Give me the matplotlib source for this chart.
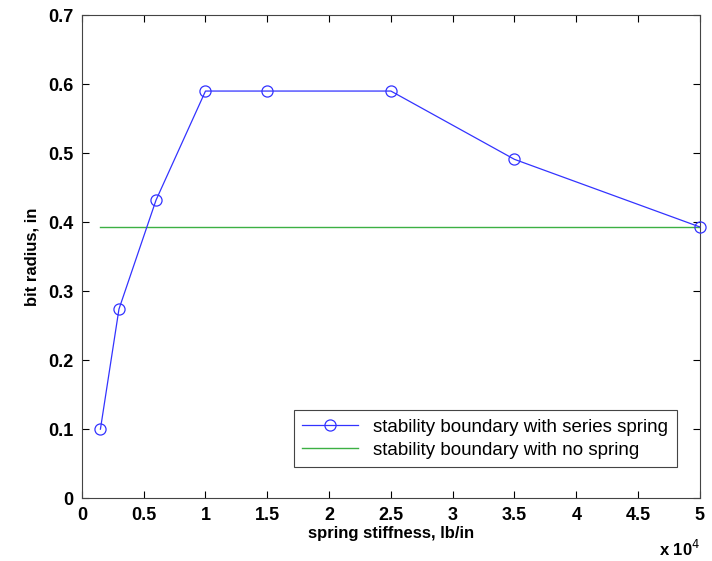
from matplotlib import pyplot as plt

# spring stiffness (lb/in) and bit radius (in)
stiffness = [1500, 3000, 6000, 10000, 15000, 25000, 35000, 50000]
radius = [0.100, 0.274, 0.432, 0.590, 0.590, 0.590, 0.491, 0.393]

# no-spring boundary
nospring_x = [1500, 50000]
nospring_y = [0.393, 0.393]

xticks = [0, 5000, 10000, 15000, 20000, 25000, 30000, 35000, 40000, 45000, 50000]
xticklabels = ["0", "0.5", "1", "1.5", "2", "2.5", "3", "3.5", "4", "4.5", "5"]
yticks = [0, 0.1, 0.2, 0.3, 0.4, 0.5, 0.6, 0.7]

plt.rcParams['font.family'] = ['Liberation Sans', 'DejaVu Sans']

fig = plt.figure(figsize=(7.12, 5.61), dpi=100)
ax = fig.add_axes([0.115, 0.112, 0.868, 0.861])

ax.plot(stiffness, radius, color='#3333ff', lw=0.9, marker='o', ms=8,
        mfc='none', mec='#3333ff', mew=0.9, clip_on=False, zorder=3,
        label='stability boundary with series spring')
ax.plot(nospring_x, nospring_y, color='#3cb043', lw=1.0,
        label='stability boundary with no spring')

ax.set_xlim(0, 50000)
ax.set_ylim(0, 0.7)
ax.set_xticks(xticks)
ax.set_xticklabels(xticklabels)
ax.set_yticks(yticks)
ax.set_yticklabels(["0", "0.1", "0.2", "0.3", "0.4", "0.5", "0.6", "0.7"])

ax.tick_params(direction='in', top=True, right=True, length=5, width=0.8,
               labelsize=13, pad=6)
for lab in ax.get_xticklabels() + ax.get_yticklabels():
    lab.set_fontweight('bold')
for sp in ax.spines.values():
    sp.set_color('#444444')

ax.set_xlabel('spring stiffness, lb/in', fontsize=12, fontweight='bold', labelpad=2)
ax.set_ylabel('bit radius, in', fontsize=12, fontweight='bold', labelpad=6)
ax.text(1.0, -0.085, r'x 10$^{4}$', transform=ax.transAxes, ha='right', va='top',
        fontsize=12, fontweight='bold')

leg = ax.legend(loc='lower right', bbox_to_anchor=(0.978, 0.045), fontsize=13.5,
                fancybox=False, framealpha=1, edgecolor='#444444',
                handlelength=3.0, borderpad=0.45, labelspacing=0.3)
leg.get_frame().set_linewidth(0.8)

fig.savefig('out.png', dpi=100)
